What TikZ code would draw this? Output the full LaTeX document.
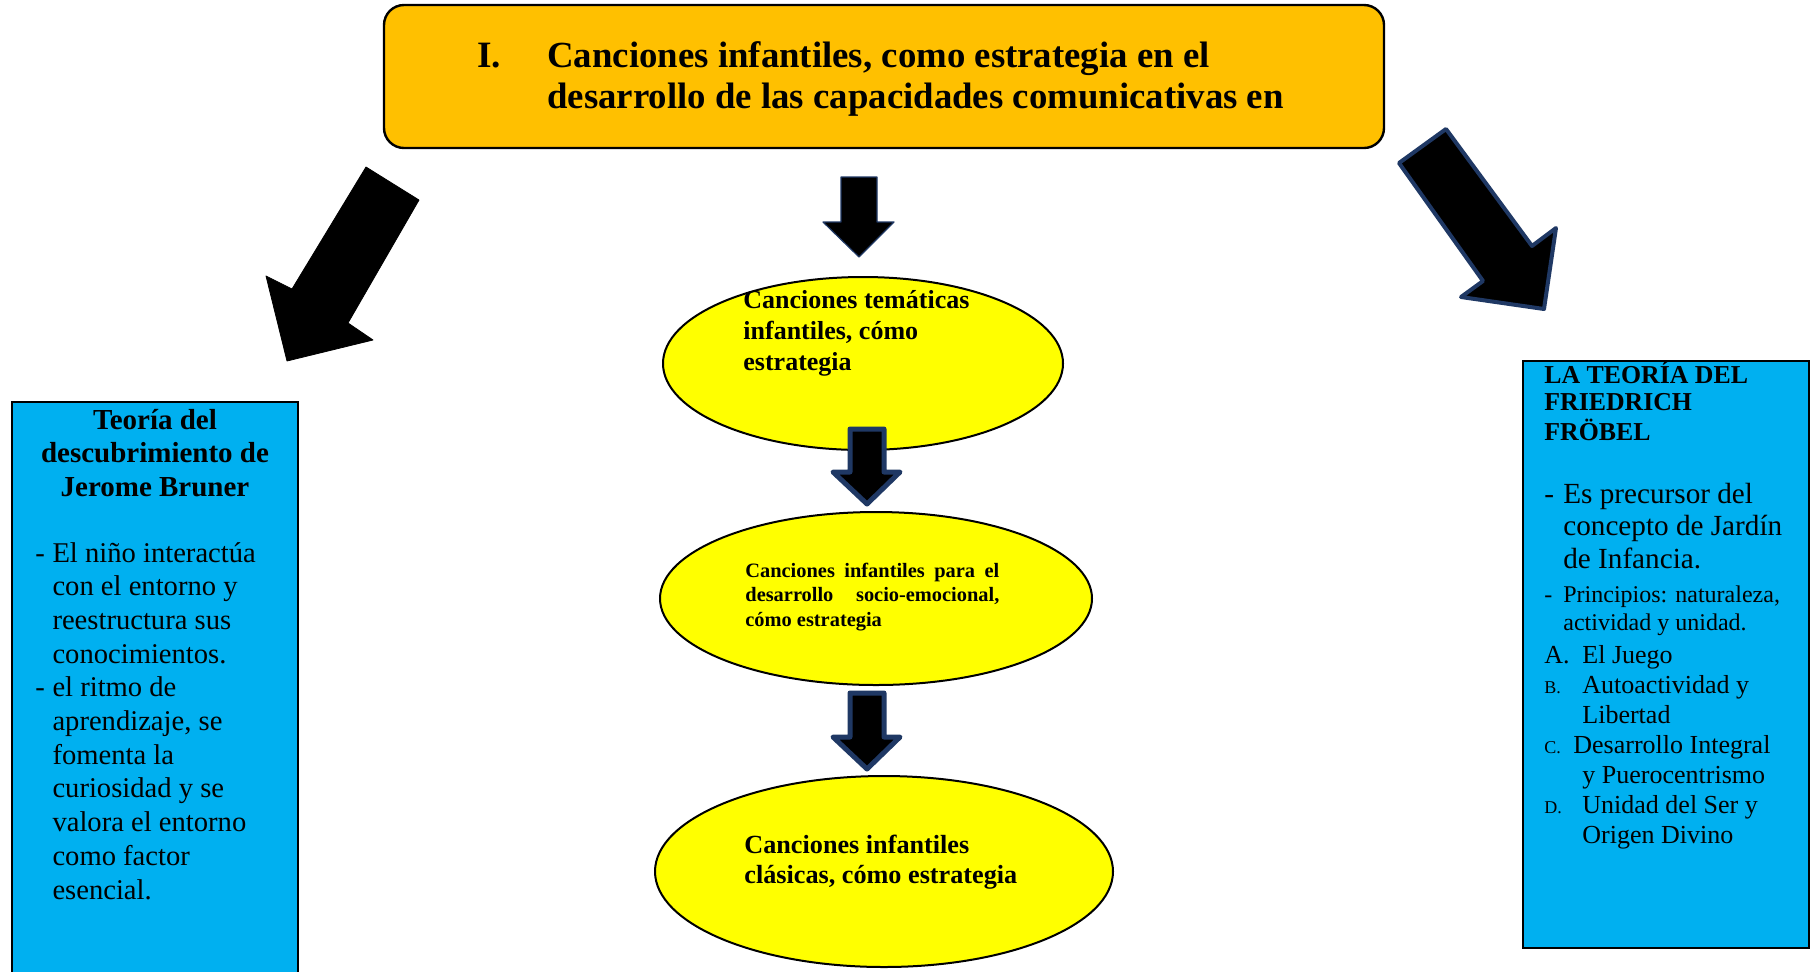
\documentclass[tikz,border=0pt]{standalone}
\usepackage{fontspec}
\setmainfont{Liberation Serif}
\usetikzlibrary{shapes.geometric}
\definecolor{titleorange}{HTML}{FFC000}
\definecolor{songyellow}{HTML}{FFFF00}
\definecolor{theoryblue}{HTML}{00B0F0}
\definecolor{arrowblue}{HTML}{1F3864}

\begin{document}
\begin{tikzpicture}[x=0.5pt,y=-0.5pt]
    \tikzstyle{blockarrow} = [fill=black, draw=arrowblue, line join=round]
       \tikzset{title/.style = {rectangle, rounded corners=10pt, draw, line width=1.2pt, fill=titleorange, minimum width=500pt, minimum height=71.5pt}, }
       \tikzset{song/.style = {ellipse, draw, line width=1pt, fill=songyellow, inner sep=0pt}, }
       \tikzset{theory/.style = {rectangle, draw, line width=1.3pt, fill=theoryblue, minimum width=143pt, inner sep=0pt}, }
       \tikzset{txt/.style = {anchor=base west, inner sep=0pt} }
       \useasboundingbox (0,0) rectangle (1810,971);

       % shapes
       \node[title] (T) at (884,76.5) {};
       \node[song, minimum width=200pt, minimum height=86.5pt] (S1) at (863,363.5) {};
       \node[song, minimum width=216pt, minimum height=86.5pt] (S2) at (876,598.5) {};
       \node[song, minimum width=229pt, minimum height=95.5pt] (S3) at (884,871.5) {};
       \node[theory, minimum height=294pt] (B) at (155,696) {};
       \node[theory, minimum height=293.5pt] (F) at (1666,654.5) {};

       % texts
       \node[txt, font=\fontsize{18.6}{20.5}\selectfont\bfseries] (TI) at (477,67) {I.};
       \node[txt, font=\fontsize{18.4}{20.5}\selectfont\bfseries] (TT) at (547,67) {\begin{tabular}[t]{@{}l@{}}
       Canciones infantiles, como estrategia en el\\
       desarrollo de las capacidades comunicativas en
       \end{tabular}};
       \node[txt, font=\fontsize{13}{15.5}\selectfont\bfseries] (ST1) at (743,308) {\begin{tabular}[t]{@{}l@{}}
       Canciones temáticas\\ infantiles, cómo\\ estrategia
       \end{tabular}};
       \node[txt, text width=127pt, align=justify, font=\fontsize{10.2}{12.3}\selectfont\bfseries] (ST2) at (745,577)
       {Canciones infantiles para el\linebreak desarrollo socio-emocional,\linebreak cómo estrategia};
       \node[txt, font=\fontsize{13.1}{15}\selectfont\bfseries] (ST3) at (744,853) {\begin{tabular}[t]{@{}l@{}}
       Canciones infantiles\\ clásicas, cómo estrategia
       \end{tabular}};

       \node[anchor=base, inner sep=0pt, font=\fontsize{14.5}{16.85}\selectfont\bfseries] (BT) at (155,429) {\begin{tabular}[t]{@{}c@{}}
       Teoría del\\ descubrimiento de\\ Jerome Bruner
       \end{tabular}};
       \node[txt, font=\fontsize{14.3}{16.85}\selectfont] (BL) at (35,562) {\begin{tabular}[t]{@{}l@{\hspace{3.8pt}}l@{}}
       - & El niño interactúa\\ & con el entorno y\\ & reestructura sus\\ & conocimientos.\\
       - & el ritmo de\\ & aprendizaje, se\\ & fomenta la\\ & curiosidad y se\\ & valora el entorno\\ & como factor\\ & esencial.
       \end{tabular}};

       \node[txt, font=\fontsize{12.9}{13.75}\selectfont\bfseries] (FT) at (1544,383) {\begin{tabular}[t]{@{}l@{}}
       LA TEORÍA DEL\\ FRIEDRICH\\ FRÖBEL
       \end{tabular}};
       \node[txt, font=\fontsize{14.6}{16.25}\selectfont] (FL1) at (1544,503) {\begin{tabular}[t]{@{}l@{\hspace{4.6pt}}l@{}}
       - & Es precursor del\\ & concepto de Jardín\\ & de Infancia.
       \end{tabular}};
       \node[txt, font=\fontsize{12}{14}\selectfont] (FL2) at (1544,602) {\begin{tabular}[t]{@{}l@{\hspace{5.5pt}}l@{}}
       - & Principios: naturaleza,\\ & actividad y unidad.
       \end{tabular}};
       \node[txt, font=\fontsize{13}{15}\selectfont] (FL3) at (1544,663) {\begin{tabular}[t]{@{}p{19pt}@{}l@{}}
       A. & El Juego\\
       {\fontsize{9}{10}\selectfont B.} & Autoactividad y\\ & Libertad\\
       {\fontsize{9}{10}\selectfont C.} & \hspace{-4.5pt}Desarrollo Integral\\ & y Puerocentrismo\\
       {\fontsize{9}{10}\selectfont D.} & Unidad del Ser y\\ & Origen Divino
       \end{tabular}};

       % block arrows
       \draw[blockarrow, draw=black] (366,167) -- (419,200) -- (348,323) -- (373,340) -- (287,361) -- (266,276) -- (292,289) -- cycle;
       \draw[blockarrow, line width=2pt] (1446,129) -- (1532,246) -- (1556,228) -- (1544,309) -- (1461,297) -- (1483,281) -- (1399,163) -- cycle;
       \draw[blockarrow, line width=0.6pt] (841,177) -- (877,177) -- (877,222) -- (894,222) -- (859,257) -- (823,222) -- (841,222) -- cycle;
       \draw[blockarrow, line width=2.5pt] (850,429) -- (884,429) -- (884,472) -- (900,472) -- (867,504) -- (833,472) -- (850,472) -- cycle;
       \draw[blockarrow, line width=2.5pt] (850,693) -- (884,693) -- (884,737) -- (900,737) -- (867,769) -- (833,737) -- (850,737) -- cycle;

\end{tikzpicture}
\end{document}
